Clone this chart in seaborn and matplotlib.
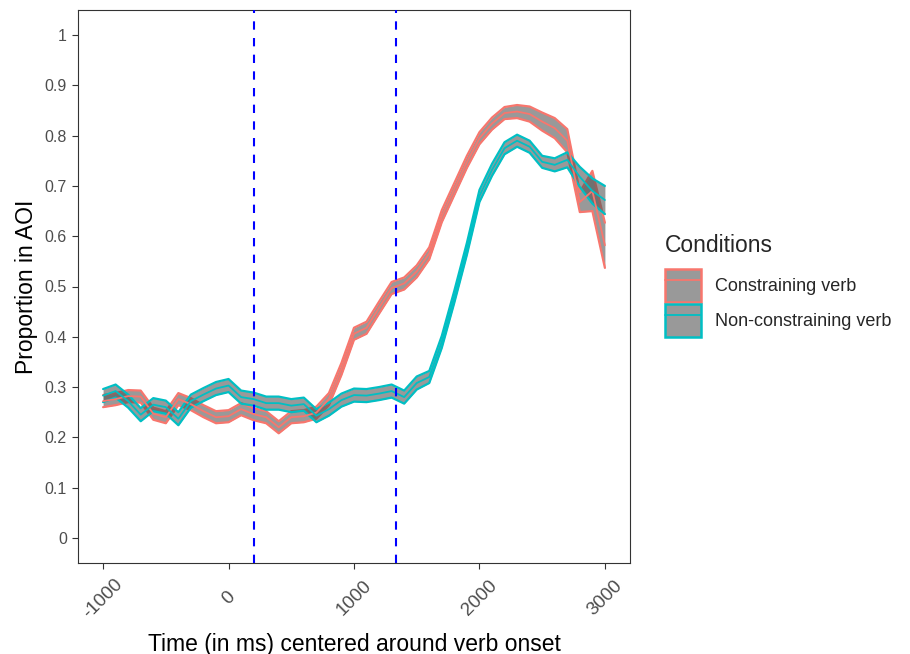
import matplotlib
matplotlib.use("Agg")
import matplotlib.pyplot as plt
import numpy as np
import pandas as pd
import seaborn as sns
from matplotlib.lines import Line2D
from matplotlib.patches import Patch


TIMES = [-1000, -900, -800, -700, -600, -500, -400, -300, -200, -100,
         0, 100, 200, 300, 400, 500, 600, 700, 800, 900,
         1000, 1100, 1200, 1300, 1400, 1500, 1600, 1700, 1800, 1900,
         2000, 2100, 2200, 2300, 2400, 2500, 2600, 2700, 2800, 2900, 3000]

CONSTRAINING_MEAN = [0.272, 0.276, 0.282, 0.281, 0.247, 0.240, 0.276, 0.266, 0.252, 0.240,
                     0.242, 0.256, 0.246, 0.240, 0.220, 0.240, 0.242, 0.249, 0.276, 0.336,
                     0.406, 0.418, 0.458, 0.497, 0.506, 0.530, 0.566, 0.640, 0.694, 0.748,
                     0.795, 0.824, 0.845, 0.848, 0.843, 0.828, 0.815, 0.790, 0.668, 0.690, 0.582]
CONSTRAINING_SE = [0.012, 0.012, 0.012, 0.012, 0.012, 0.012, 0.012, 0.012, 0.012, 0.012,
                   0.012, 0.012, 0.012, 0.012, 0.012, 0.012, 0.012, 0.012, 0.012, 0.012,
                   0.012, 0.012, 0.012, 0.012, 0.012, 0.012, 0.012, 0.012, 0.012, 0.012,
                   0.012, 0.012, 0.012, 0.013, 0.015, 0.018, 0.020, 0.023, 0.020, 0.040, 0.045]

NONCONSTRAINING_MEAN = [0.283, 0.292, 0.272, 0.245, 0.265, 0.260, 0.237, 0.272, 0.285, 0.297,
                        0.303, 0.280, 0.276, 0.268, 0.268, 0.263, 0.266, 0.243, 0.256, 0.274,
                        0.284, 0.283, 0.287, 0.292, 0.280, 0.308, 0.320, 0.390, 0.480, 0.575,
                        0.680, 0.732, 0.775, 0.790, 0.778, 0.748, 0.742, 0.752, 0.718, 0.690, 0.672]
NONCONSTRAINING_SE = [0.013, 0.013, 0.013, 0.013, 0.013, 0.013, 0.013, 0.013, 0.013, 0.013,
                      0.013, 0.013, 0.013, 0.013, 0.013, 0.013, 0.013, 0.013, 0.013, 0.013,
                      0.013, 0.013, 0.013, 0.013, 0.013, 0.013, 0.012, 0.012, 0.012, 0.012,
                      0.012, 0.012, 0.012, 0.012, 0.012, 0.012, 0.013, 0.015, 0.020, 0.025, 0.028]

CONDITIONS = ["Constraining verb", "Non-constraining verb"]
COLORS = ["#F8766D", "#00BFC4"]
WINDOW_LINES = [200, 1333]


def build_frame():
    parts = []
    for cond, mean, se in [(CONDITIONS[0], CONSTRAINING_MEAN, CONSTRAINING_SE),
                           (CONDITIONS[1], NONCONSTRAINING_MEAN, NONCONSTRAINING_SE)]:
        parts.append(pd.DataFrame({"time": TIMES, "prop": mean, "se": se, "condition": cond}))
    df = pd.concat(parts, ignore_index=True)
    df["lo"] = df["prop"] - df["se"]
    df["hi"] = df["prop"] + df["se"]
    return df


def main():
    df = build_frame()
    palette = dict(zip(CONDITIONS, COLORS))

    sns.set_theme(style="white")
    plt.rcParams["font.family"] = ["Liberation Sans", "DejaVu Sans"]

    fig = plt.figure(figsize=(9.1, 6.54), dpi=100)
    ax = fig.add_axes([78 / 910, 1 - 563 / 654, 552 / 910, 553 / 654])

    # ribbons: grey fill with coloured outline (upper and lower)
    for cond in CONDITIONS:
        sub = df[df["condition"] == cond]
        ax.fill_between(sub["time"], sub["lo"], sub["hi"], color="#555555", alpha=0.6,
                        linewidth=0, zorder=2)
        ax.plot(sub["time"], sub["lo"], color=palette[cond], linewidth=1.6, zorder=2)
        ax.plot(sub["time"], sub["hi"], color=palette[cond], linewidth=1.6, zorder=2)

    sns.lineplot(data=df, x="time", y="prop", hue="condition", palette=palette,
                 linewidth=1.3, legend=False, ax=ax, zorder=3)

    for xv in WINDOW_LINES:
        ax.axvline(xv, color="#0000FF", linestyle=(0, (4, 4)), linewidth=1.5, zorder=4)

    ax.set_xlim(-1200, 3200)
    ax.set_ylim(-0.05, 1.05)
    ax.set_xticks([-1000, 0, 1000, 2000, 3000])
    ax.set_xticklabels(["-1000", "0", "1000", "2000", "3000"], rotation=45,
                       ha="center", va="center", rotation_mode="anchor")
    yt = [0, 0.1, 0.2, 0.3, 0.4, 0.5, 0.6, 0.7, 0.8, 0.9, 1]
    ax.set_yticks(yt)
    ax.set_yticklabels([f"{v:g}" for v in yt])
    ax.tick_params(axis="both", which="major", direction="out", length=4, width=0.8,
                   color="#333333", labelsize=11.5, labelcolor="#4D4D4D", pad=4,
                   bottom=True, left=True)
    ax.tick_params(axis="x", labelsize=13.5, pad=21.5)
    ax.set_xlabel("Time (in ms) centered around verb onset", fontsize=16.5, color="black", labelpad=8)
    ax.set_ylabel("Proportion in AOI", fontsize=16.5, color="black", labelpad=4.5)
    for side in ax.spines.values():
        side.set_visible(True)
        side.set_color("#333333")
        side.set_linewidth(0.8)
    ax.grid(False)

    handles = [(Patch(facecolor="#999999", edgecolor=c, linewidth=1.8),
                Line2D([0], [0], color=c, linewidth=1.3)) for c in COLORS]
    leg = ax.legend(handles, CONDITIONS, title="Conditions", loc="center left",
                    bbox_to_anchor=(1.041, 0.501), frameon=False, fontsize=13,
                    title_fontsize=16.5, handlelength=2.0, handleheight=2.5,
                    labelspacing=0.08, handletextpad=0.75, borderpad=0.2)
    leg._legend_box.align = "left"
    leg._legend_box.sep = 8

    fig.savefig("out.png", dpi=100)


if __name__ == "__main__":
    main()
